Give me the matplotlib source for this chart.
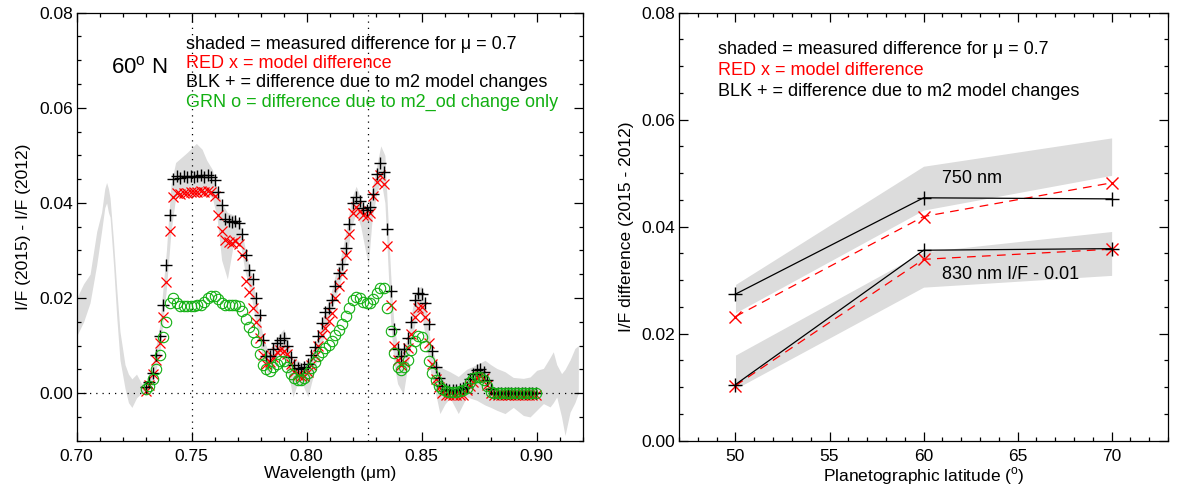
import numpy as np
import matplotlib
matplotlib.use("Agg")
import matplotlib.pyplot as plt

plt.rcParams["font.family"] = ["Liberation Sans", "DejaVu Sans"]
plt.rcParams["mathtext.fontset"] = "custom"
plt.rcParams["mathtext.rm"] = "Liberation Sans"
plt.rcParams["font.size"] = 12.5

# ---- left panel: 60 N spectra ----
# wavelength sampling of the model points (um)
wl = np.round(0.730 + 0.0015 * np.arange(114), 4)

blk = [0.0012, 0.0024, 0.0042, 0.0080, 0.0120, 0.0185, 0.0270, 0.0375, 0.0450, 0.0456,
       0.0453, 0.0456, 0.0455, 0.0457, 0.0455, 0.0456, 0.0458, 0.0455, 0.0459, 0.0455,
       0.0449, 0.0422, 0.0395, 0.0367, 0.0362, 0.0360, 0.0363, 0.0358, 0.0335, 0.0290,
       0.0258, 0.0240, 0.0200, 0.0165, 0.0111, 0.0078, 0.0078, 0.0092, 0.0105, 0.0112,
       0.0115, 0.0100, 0.0075, 0.0060, 0.0053, 0.0050, 0.0055, 0.0062, 0.0080, 0.0098,
       0.0120, 0.0148, 0.0170, 0.0180, 0.0195, 0.0225, 0.0252, 0.0272, 0.0305, 0.0355,
       0.0400, 0.0412, 0.0405, 0.0390, 0.0386, 0.0392, 0.0418, 0.0460, 0.0485, 0.0465,
       0.0345, 0.0215, 0.0135, 0.0093, 0.0078, 0.0092, 0.0115, 0.0150, 0.0196, 0.0210,
       0.0208, 0.0190, 0.0145, 0.0088, 0.0055, 0.0032, 0.0015, 0.0008, 0.0007, 0.0006,
       0.0007, 0.0008, 0.0010, 0.0013, 0.0030, 0.0040, 0.0048, 0.0051, 0.0044, 0.0028,
       0.0008, 0.0, 0.0, 0.0, 0.0, 0.0, 0.0, 0.0, 0.0, 0.0,
       0.0, 0.0, 0.0, 0.0]

red = [0.0004, 0.0018, 0.0040, 0.0070, 0.0105, 0.0160, 0.0233, 0.0340, 0.0412, 0.0420,
       0.0418, 0.0421, 0.0420, 0.0423, 0.0422, 0.0424, 0.0425, 0.0424, 0.0426, 0.0423,
       0.0415, 0.0375, 0.0340, 0.0322, 0.0318, 0.0316, 0.0319, 0.0314, 0.0290, 0.0235,
       0.0212, 0.0180, 0.0150, 0.0115, 0.0080, 0.0062, 0.0066, 0.0075, 0.0087, 0.0090,
       0.0088, 0.0082, 0.0062, 0.0045, 0.0038, 0.0035, 0.0036, 0.0045, 0.0060, 0.0078,
       0.0100, 0.0122, 0.0138, 0.0152, 0.0168, 0.0200, 0.0225, 0.0250, 0.0290, 0.0335,
       0.0378, 0.0392, 0.0384, 0.0374, 0.0372, 0.0378, 0.0415, 0.0445, 0.0458, 0.0440,
       0.0310, 0.0185, 0.0100, 0.0070, 0.0060, 0.0066, 0.0095, 0.0125, 0.0160, 0.0180,
       0.0182, 0.0160, 0.0105, 0.0062, 0.0030, 0.0012, 0.0000, -0.0003, -0.0003, -0.0003,
       -0.0003, -0.0003, -0.0003, 0.0006, 0.0015, 0.0024, 0.0033, 0.0036, 0.0031, 0.0018,
       0.0001, -0.0003, -0.0003, -0.0003, -0.0003, -0.0003, -0.0003, -0.0003, -0.0003, -0.0003,
       -0.0003, -0.0003, -0.0003, -0.0003]

grn = [0.0008, 0.0016, 0.0030, 0.0050, 0.0080, 0.0118, 0.0150, 0.0190, 0.0200, 0.0190,
       0.0184, 0.0183, 0.0184, 0.0184, 0.0183, 0.0185, 0.0186, 0.0191, 0.0200, 0.0205,
       0.0204, 0.0199, 0.0190, 0.0186, 0.0186, 0.0185, 0.0186, 0.0183, 0.0172, 0.0155,
       0.0140, 0.0128, 0.0108, 0.0082, 0.0060, 0.0050, 0.0046, 0.0054, 0.0062, 0.0068,
       0.0068, 0.0055, 0.0041, 0.0031, 0.0028, 0.0027, 0.0032, 0.0043, 0.0053, 0.0066,
       0.0078, 0.0087, 0.0094, 0.0102, 0.0110, 0.0122, 0.0133, 0.0146, 0.0162, 0.0180,
       0.0196, 0.0203, 0.0200, 0.0191, 0.0189, 0.0190, 0.0197, 0.0210, 0.0222, 0.0221,
       0.0180, 0.0130, 0.0085, 0.0056, 0.0049, 0.0056, 0.0070, 0.0090, 0.0110, 0.0121,
       0.0118, 0.0100, 0.0068, 0.0042, 0.0028, 0.0016, 0.0008, 0.0004, 0.0003, 0.0003,
       0.0003, 0.0004, 0.0006, 0.0011, 0.0023, 0.0031, 0.0034, 0.0034, 0.0028, 0.0016,
       0.0002, 0.0, 0.0, 0.0, 0.0, 0.0, 0.0, 0.0, 0.0, 0.0,
       0.0, 0.0, 0.0, 0.0]

# measured difference envelope (shaded)
band_wl = [0.7000, 0.7030, 0.7058, 0.7087, 0.7108, 0.7122, 0.7130, 0.7138, 0.7145, 0.7160,
           0.7174, 0.7188, 0.7210, 0.7225, 0.7240, 0.7260, 0.7282, 0.7300, 0.7330, 0.7360,
           0.7390, 0.7410, 0.7430, 0.7480, 0.7520, 0.7545, 0.7565, 0.7590, 0.7610, 0.7630,
           0.7655, 0.7680, 0.7710, 0.7730, 0.7760, 0.7790, 0.7810, 0.7830, 0.7850, 0.7875,
           0.7900, 0.7920, 0.7940, 0.7960, 0.7985, 0.8005, 0.8025, 0.8050, 0.8075, 0.8100,
           0.8125, 0.8150, 0.8175, 0.8195, 0.8215, 0.8235, 0.8255, 0.8268, 0.8285, 0.8305,
           0.8322, 0.8340, 0.8350, 0.8365, 0.8380, 0.8395, 0.8420, 0.8440, 0.8460, 0.8480,
           0.8500, 0.8520, 0.8540, 0.8560, 0.8579, 0.8601, 0.8623, 0.8659, 0.8695, 0.8739,
           0.8775, 0.8800, 0.8826, 0.8862, 0.8898, 0.8942, 0.8971, 0.9000, 0.9029, 0.9058,
           0.9072, 0.9087, 0.9108, 0.9123, 0.9145, 0.9166, 0.9181]
band_lo = [0.0120, 0.0150, 0.0190, 0.0270, 0.0340, 0.0390, 0.0400, 0.0380, 0.0370, 0.0270,
           0.0160, 0.0070, 0.0010, -0.0020, -0.0030, -0.0010, 0.0000, -0.0005, 0.0020, 0.0080,
           0.0220, 0.0340, 0.0410, 0.0420, 0.0415, 0.0420, 0.0420, 0.0410, 0.0370, 0.0280,
           0.0240, 0.0310, 0.0320, 0.0260, 0.0200, 0.0120, 0.0070, 0.0040, 0.0050, 0.0080,
           0.0085, 0.0040, -0.0008, 0.0020, 0.0015, -0.0008, 0.0030, 0.0080, 0.0120, 0.0160,
           0.0200, 0.0240, 0.0290, 0.0350, 0.0380, 0.0350, 0.0300, 0.0270, 0.0370, 0.0420,
           0.0450, 0.0400, 0.0300, 0.0150, 0.0060, 0.0020, -0.0002, 0.0060, 0.0120, 0.0170,
           0.0170, 0.0100, 0.0040, 0.0000, -0.0043, -0.0023, -0.0010, -0.0043, -0.0008, -0.0015,
           -0.0025, -0.0030, -0.0036, -0.0043, -0.0030, -0.0047, -0.0050, -0.0036, -0.0022, -0.0029,
           -0.0020, -0.0008, -0.0050, -0.0089, -0.0040, -0.0020, 0.0000]
band_hi = [0.0200, 0.0230, 0.0250, 0.0340, 0.0380, 0.0430, 0.0443, 0.0430, 0.0410, 0.0320,
           0.0220, 0.0130, 0.0060, 0.0040, 0.0030, 0.0040, 0.0020, 0.0025, 0.0060, 0.0140,
           0.0300, 0.0440, 0.0485, 0.0506, 0.0525, 0.0513, 0.0490, 0.0470, 0.0430, 0.0400,
           0.0380, 0.0375, 0.0360, 0.0310, 0.0250, 0.0170, 0.0120, 0.0090, 0.0100, 0.0120,
           0.0135, 0.0110, 0.0070, 0.0070, 0.0060, 0.0070, 0.0090, 0.0120, 0.0170, 0.0200,
           0.0250, 0.0290, 0.0350, 0.0410, 0.0435, 0.0410, 0.0390, 0.0390, 0.0430, 0.0480,
           0.0520, 0.0500, 0.0400, 0.0250, 0.0140, 0.0100, 0.0090, 0.0120, 0.0180, 0.0220,
           0.0225, 0.0170, 0.0100, 0.0070, 0.0055, 0.0050, 0.0045, 0.0035, 0.0050, 0.0060,
           0.0069, 0.0060, 0.0052, 0.0045, 0.0033, 0.0031, 0.0034, 0.0048, 0.0052, 0.0075,
           0.0087, 0.0060, 0.0041, 0.0050, 0.0070, 0.0094, 0.0100]

# ---- right panel: latitude dependence ----
lat = [50, 60, 70]
blk_750 = [0.0274, 0.0454, 0.0452]
red_750 = [0.0232, 0.0419, 0.0482]
lo_750 = [0.0239, 0.0431, 0.0496]
hi_750 = [0.0292, 0.0513, 0.0566]
blk_830 = [0.0105, 0.0356, 0.0359]
red_830 = [0.0103, 0.0339, 0.0358]
lo_830 = [0.0097, 0.0287, 0.0309]
hi_830 = [0.0160, 0.0353, 0.0391]

GRAY = "#dcdcdc"
GREEN = "#12b012"
NOTE = 13

fig = plt.figure(figsize=(11.82, 4.87), dpi=100)
ax1 = fig.add_axes([0.0649, 0.0951, 0.4281, 0.8788])
ax2 = fig.add_axes([0.5745, 0.0951, 0.4137, 0.8788])

ax1.fill_between(band_wl, band_lo, band_hi, color=GRAY, lw=0, zorder=1)
ax1.axhline(0, color="k", ls=(0, (1, 4)), lw=0.9, zorder=2)
ax1.axvline(0.75, color="k", ls=(0, (1, 4)), lw=0.9, zorder=2)
ax1.axvline(0.8268, color="k", ls=(0, (1, 4)), lw=0.9, zorder=2)
ax1.plot(wl, red, "x", color="red", ms=7, mew=0.9, zorder=3)
ax1.plot(wl, blk, "+", color="k", ms=9, mew=1.0, zorder=4)
ax1.plot(wl, grn, "o", mfc="none", mec=GREEN, ms=7.5, mew=0.8, zorder=5)

ax1.set_xlim(0.70, 0.92)
ax1.set_ylim(-0.01, 0.08)
ax1.set_xticks([0.70, 0.75, 0.80, 0.85, 0.90])
ax1.set_xticks(np.arange(0.70, 0.921, 0.01), minor=True)
ax1.set_yticks([0.00, 0.02, 0.04, 0.06, 0.08])
ax1.set_yticks(np.arange(-0.01, 0.0801, 0.005), minor=True)
ax1.xaxis.set_major_formatter(matplotlib.ticker.FormatStrFormatter("%.2f"))
ax1.yaxis.set_major_formatter(matplotlib.ticker.FormatStrFormatter("%.2f"))
ax1.set_xlabel("Wavelength (\u03bcm)", labelpad=1.5)
ax1.set_ylabel("I/F (2015) - I/F (2012)", labelpad=6)

ax1.text(0.067, 0.873, r"60$^\mathrm{o}$ N", transform=ax1.transAxes, fontsize=16, va="center")
tx = 0.2156
ax1.text(tx, 0.925, "shaded = measured difference for \u03bc = 0.7", transform=ax1.transAxes,
         va="center", fontsize=NOTE)
ax1.text(tx, 0.881, "RED x = model difference", color="red", transform=ax1.transAxes,
         va="center", fontsize=NOTE)
ax1.text(tx, 0.836, "BLK + = difference due to m2 model changes", transform=ax1.transAxes,
         va="center", fontsize=NOTE)
ax1.text(tx, 0.791, "GRN o = difference due to m2_od change only", color=GREEN,
         transform=ax1.transAxes, va="center", fontsize=NOTE)

ax2.fill_between(lat, lo_750, hi_750, color=GRAY, lw=0, zorder=1)
ax2.fill_between(lat, lo_830, hi_830, color=GRAY, lw=0, zorder=1)
ax2.plot(lat, blk_750, "k-", marker="+", ms=10, mew=1.0, lw=0.9, zorder=3)
ax2.plot(lat, red_750, color="red", ls=(0, (7, 5)), marker="x", ms=9, mew=1.0, lw=0.9, zorder=2)
ax2.plot(lat, blk_830, "k-", marker="+", ms=10, mew=1.0, lw=0.9, zorder=3)
ax2.plot(lat, red_830, color="red", ls=(0, (7, 5)), marker="x", ms=9, mew=1.0, lw=0.9, zorder=2)
ax2.text(61.0, 0.0490, "750 nm", va="center", fontsize=NOTE)
ax2.text(61.0, 0.0311, "830 nm I/F - 0.01", va="center", fontsize=NOTE)

ax2.set_xlim(47, 73)
ax2.set_ylim(0.0, 0.08)
ax2.set_xticks([50, 55, 60, 65, 70])
ax2.set_xticks(np.arange(47, 74, 1), minor=True)
ax2.set_yticks([0.00, 0.02, 0.04, 0.06, 0.08])
ax2.set_yticks(np.arange(0.0, 0.0801, 0.005), minor=True)
ax2.yaxis.set_major_formatter(matplotlib.ticker.FormatStrFormatter("%.2f"))
ax2.set_xlabel(r"Planetographic latitude ($^\mathrm{o}$)", labelpad=1)
ax2.set_ylabel("I/F difference (2015 - 2012)", labelpad=6)

tx2 = 0.08
ax2.text(tx2, 0.915, "shaded = measured difference for \u03bc = 0.7", transform=ax2.transAxes,
         va="center", fontsize=NOTE)
ax2.text(tx2, 0.866, "RED x = model difference", color="red", transform=ax2.transAxes,
         va="center", fontsize=NOTE)
ax2.text(tx2, 0.817, "BLK + = difference due to m2 model changes", transform=ax2.transAxes,
         va="center", fontsize=NOTE)

for ax in (ax1, ax2):
    ax.tick_params(which="both", direction="in", top=True, right=True, width=0.9, color="k")
    ax.tick_params(which="major", length=6.5)
    ax.tick_params(which="minor", length=3.2)
    ax.tick_params(axis="x", which="both", pad=6)
    ax.tick_params(axis="y", which="both", pad=2.5)
    for s in ax.spines.values():
        s.set_linewidth(0.9)

fig.savefig("out.png", dpi=100)
